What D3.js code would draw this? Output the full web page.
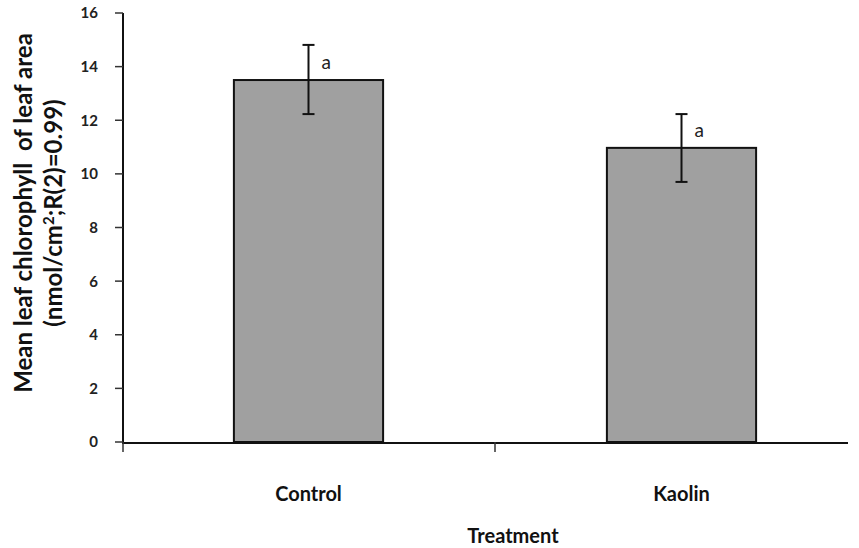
<!DOCTYPE html>
<html>
<head>
<meta charset="utf-8">
<script src="https://cdn.jsdelivr.net/npm/d3@7"></script>
<style>
  html, body { margin: 0; padding: 0; background: #fff; }
  svg { display: block; }
  text { font-family: Lato, "Open Sans", sans-serif; }
</style>
</head>
<body>
<svg id="chart" width="859" height="548"></svg>
<script>
// Mean leaf chlorophyll per treatment, with error bars and significance letters
const categories = ["Control", "Kaolin"];
const means = [13.5, 10.97];
const errLow = [12.23, 9.7];
const errHigh = [14.81, 12.23];
const letters = ["a", "a"];
const yTicks = [0, 2, 4, 6, 8, 10, 12, 14, 16];

const svg = d3.select("#chart");
const x0 = 122, x1 = 868, axisEnd = 848;
const yBottom = 442, yTop = 13;

const x = d3.scaleBand().domain(categories).range([x0, x1])
  .paddingInner(0.6).paddingOuter(0.3);
const y = d3.scaleLinear().domain([0, 16]).range([yBottom, yTop]);

// bars
svg.append("g").selectAll("rect").data(categories).join("rect")
  .attr("x", d => x(d))
  .attr("y", (d, i) => y(means[i]))
  .attr("width", x.bandwidth())
  .attr("height", (d, i) => y(0) - y(means[i]))
  .attr("fill", "#a0a0a0")
  .attr("stroke", "#111")
  .attr("stroke-width", 2);

// y axis
const yAxis = svg.append("g");
yAxis.append("line").attr("x1", x0 + 1).attr("x2", x0 + 1)
  .attr("y1", yTop).attr("y2", yBottom + 1)
  .attr("stroke", "#111").attr("stroke-width", 2);
yAxis.selectAll("line.tick").data(yTicks).join("line")
  .attr("class", "tick")
  .attr("x1", x0 - 7).attr("x2", x0 + 1)
  .attr("y1", d => y(d)).attr("y2", d => y(d))
  .attr("stroke", "#333").attr("stroke-width", 1.5);
yAxis.selectAll("text").data(yTicks).join("text")
  .attr("x", 98).attr("y", d => y(d))
  .attr("dy", "0.36em")
  .attr("text-anchor", "end")
  .attr("font-size", 15).attr("font-weight", "bold").attr("fill", "#222")
  .text(d => d);

// x axis
const xAxis = svg.append("g");
xAxis.append("line").attr("x1", x0).attr("x2", axisEnd)
  .attr("y1", yBottom + 1).attr("y2", yBottom + 1)
  .attr("stroke", "#111").attr("stroke-width", 2);
const bounds = [x0 + 1, x(categories[1]) - x.step() * x.paddingInner() / 2];
xAxis.selectAll("line.tick").data(bounds).join("line")
  .attr("class", "tick")
  .attr("x1", d => d).attr("x2", d => d)
  .attr("y1", yBottom).attr("y2", yBottom + 10)
  .attr("stroke", "#333").attr("stroke-width", 1.5);
xAxis.selectAll("text").data(categories).join("text")
  .attr("x", d => x(d) + x.bandwidth() / 2)
  .attr("y", 501)
  .attr("text-anchor", "middle")
  .attr("font-size", 20).attr("font-weight", "bold").attr("fill", "#111")
  .text(d => d);

// error bars
const eb = svg.append("g").attr("stroke", "#111").attr("stroke-width", 2);
categories.forEach((c, i) => {
  const cx = x(c) + x.bandwidth() / 2;
  eb.append("line").attr("x1", cx).attr("x2", cx)
    .attr("y1", y(errHigh[i])).attr("y2", y(errLow[i]));
  [errHigh[i], errLow[i]].forEach(v => {
    eb.append("line").attr("x1", cx - 6).attr("x2", cx + 6)
      .attr("y1", y(v)).attr("y2", y(v));
  });
});

// significance letters
svg.append("g").selectAll("text").data(categories).join("text")
  .attr("x", d => x(d) + x.bandwidth() / 2 + 13)
  .attr("y", (d, i) => y(means[i]) - 11)
  .attr("font-size", 19).attr("fill", "#222")
  .text((d, i) => letters[i]);

// axis titles
svg.append("text")
  .attr("x", 513).attr("y", 543)
  .attr("text-anchor", "middle")
  .attr("font-size", 20).attr("font-weight", "bold").attr("fill", "#111")
  .text("Treatment");

const yTitle = svg.append("text")
  .attr("transform", "translate(0,213) rotate(-90)")
  .attr("text-anchor", "middle")
  .attr("font-size", 24).attr("font-weight", "bold").attr("fill", "#111");
yTitle.append("tspan").attr("x", 0).attr("y", 32)
  .attr("xml:space", "preserve")
  .text("Mean leaf chlorophyll  of leaf area");
const l2 = yTitle.append("tspan").attr("x", 0).attr("y", 62);
l2.append("tspan").text("(nmol/cm");
l2.append("tspan").attr("dy", -8).attr("font-size", 15).text("2");
l2.append("tspan").attr("dy", 8).text(";R(2)=0.99)");
</script>
</body>
</html>
